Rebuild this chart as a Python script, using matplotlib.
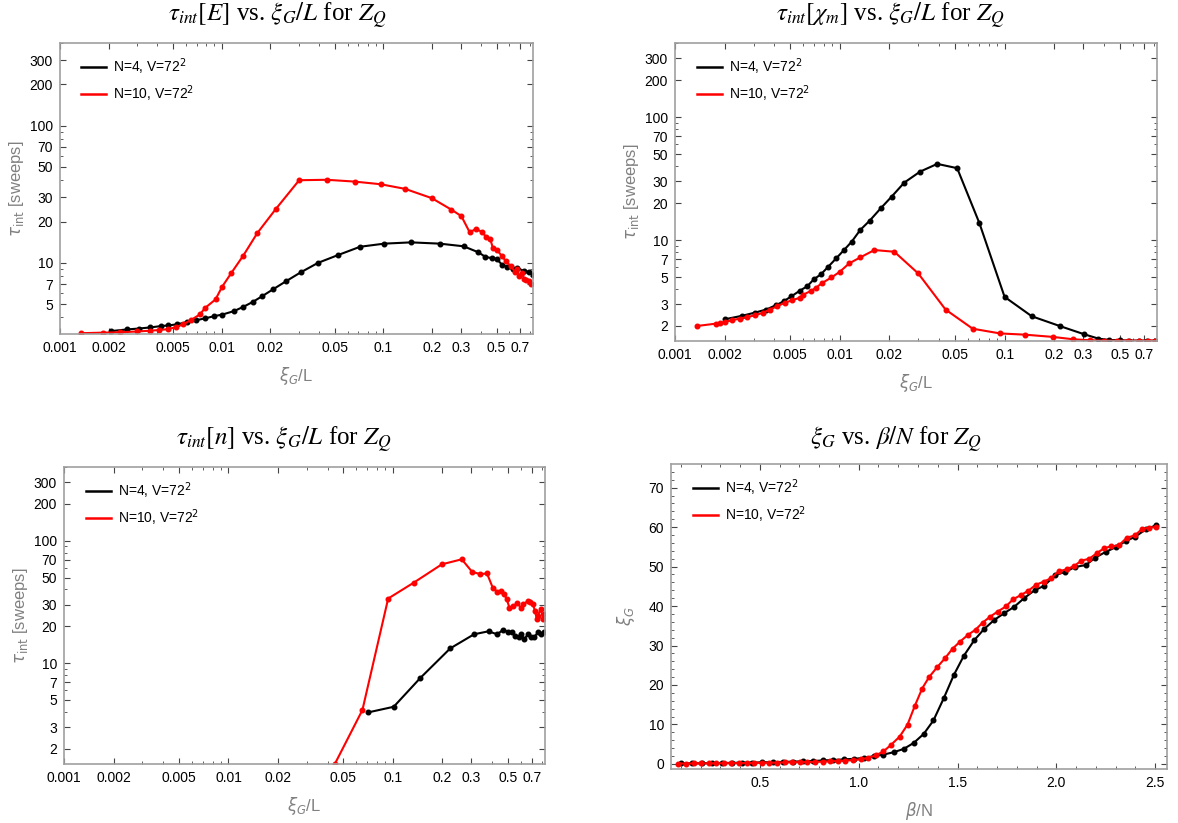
import matplotlib
matplotlib.use("Agg")
import matplotlib.pyplot as plt
from matplotlib.lines import Line2D
from matplotlib.ticker import FixedLocator, FixedFormatter, NullFormatter

plt.rcParams['font.family'] = ['Liberation Sans', 'DejaVu Sans']
plt.rcParams['mathtext.fontset'] = 'dejavusans'

# ---------------- data ----------------
legend_n4 = "N=4, V=72$^2$"
legend_n10 = "N=10, V=72$^2$"

# tau_int[E] vs xi_G/L
e_x_n4 = [0.00206, 0.00259, 0.00306, 0.00359, 0.00421, 0.00468, 0.00527, 0.00609, 0.00696, 0.0079,
          0.0090, 0.0101, 0.0119, 0.0136, 0.0156, 0.0178, 0.0207, 0.0250, 0.0309, 0.0394,
          0.0524, 0.0717, 0.101, 0.148, 0.223, 0.313, 0.385, 0.427, 0.47, 0.50,
          0.54, 0.58, 0.63, 0.67, 0.74, 0.79, 0.84]
e_y_n4 = [3.18, 3.27, 3.32, 3.38, 3.46, 3.50, 3.56, 3.70, 3.82, 3.94,
          4.09, 4.20, 4.45, 4.78, 5.20, 5.72, 6.4, 7.35, 8.55, 10.0,
          11.4, 13.1, 13.8, 14.1, 13.8, 13.2, 11.95, 11.05, 10.8, 10.7,
          9.7, 9.35, 8.95, 9.2, 8.7, 8.6, 8.2]
e_x_n10 = [0.00135, 0.00185, 0.00235, 0.00300, 0.00359, 0.00410, 0.00468, 0.00520, 0.00577, 0.00650,
           0.00733, 0.0079, 0.00915, 0.01005, 0.01147, 0.01359, 0.0166, 0.0216, 0.0301, 0.0446,
           0.0662, 0.096, 0.136, 0.199, 0.263, 0.303, 0.341, 0.374, 0.405, 0.433,
           0.457, 0.474, 0.50, 0.54, 0.57, 0.61, 0.65, 0.67, 0.69, 0.72,
           0.74, 0.76, 0.79, 0.82]
e_y_n10 = [3.07, 3.10, 3.12, 3.16, 3.20, 3.24, 3.29, 3.40, 3.56, 3.85,
           4.21, 4.7, 5.41, 6.69, 8.45, 11.3, 16.5, 24.7, 40.0, 40.3,
           39.1, 37.4, 34.6, 29.6, 24.4, 21.9, 16.7, 17.7, 16.8, 15.4,
           14.9, 12.9, 12.5, 11.2, 10.3, 9.5, 8.6, 9.0, 8.0, 8.4,
           7.6, 7.5, 7.35, 7.0]

# tau_int[chi_m] vs xi_G/L
c_x_n4 = [0.00201, 0.00255, 0.00306, 0.00357, 0.00412, 0.00457, 0.00509, 0.0057, 0.00636, 0.00694,
          0.0077, 0.0085, 0.0095, 0.0106, 0.0118, 0.0133, 0.0152, 0.0177, 0.0206, 0.0246,
          0.0307, 0.0390, 0.0515, 0.0703, 0.0999, 0.146, 0.218, 0.305, 0.37, 0.43,
          0.50, 0.57, 0.65, 0.73, 0.82]
c_y_n4 = [2.27, 2.42, 2.57, 2.72, 2.96, 3.18, 3.49, 3.86, 4.22, 4.78,
          5.28, 6.06, 7.09, 8.29, 9.69, 12.07, 14.4, 18.1, 22.5, 29.3,
          36.0, 41.6, 38.4, 13.7, 3.45, 2.40, 1.99, 1.71, 1.58, 1.54,
          1.53, 1.52, 1.52, 1.52, 1.52]
c_x_n10 = [0.00136, 0.00177, 0.00188, 0.00201, 0.00223, 0.00248, 0.00275, 0.00306, 0.0034, 0.00377,
           0.00418, 0.00464, 0.00514, 0.0057, 0.0060, 0.0067, 0.0072, 0.0078, 0.0089, 0.0100,
           0.0114, 0.0133, 0.0162, 0.0214, 0.0299, 0.0438, 0.064, 0.0937, 0.133, 0.196,
           0.26, 0.33, 0.40, 0.48, 0.56, 0.65, 0.74, 0.82]
c_y_n10 = [2.0, 2.09, 2.12, 2.16, 2.23, 2.30, 2.37, 2.44, 2.56, 2.72,
           2.90, 3.09, 3.24, 3.39, 3.6, 3.86, 4.11, 4.47, 4.96, 5.52,
           6.46, 7.22, 8.29, 8.03, 5.35, 2.72, 1.90, 1.74, 1.70, 1.63,
           1.56, 1.53, 1.52, 1.52, 1.52, 1.52, 1.52, 1.52]

# tau_int[n] vs xi_G/L
n_x_n4 = [0.0707, 0.101, 0.147, 0.223, 0.311, 0.381, 0.43, 0.464, 0.50, 0.53,
          0.55, 0.58, 0.60, 0.63, 0.66, 0.69, 0.72, 0.76, 0.79, 0.83]
n_y_n4 = [3.96, 4.40, 7.59, 13.2, 17.2, 18.2, 17.2, 18.6, 18.1, 17.8,
          16.7, 16.2, 17.2, 15.7, 17.2, 16.2, 16.2, 17.8, 17.2, 17.8]
n_x_n10 = [0.0443, 0.0652, 0.0935, 0.134, 0.198, 0.262, 0.302, 0.338, 0.373, 0.404,
           0.43, 0.456, 0.474, 0.492, 0.51, 0.54, 0.57, 0.60, 0.62, 0.66,
           0.68, 0.71, 0.73, 0.75, 0.76, 0.79, 0.82, 0.83]
n_y_n10 = [1.5, 4.14, 33.7, 45.5, 64.1, 70.5, 55.9, 53.3, 54.0, 41.4,
           38.3, 39.0, 36.6, 33.3, 28.4, 29.3, 30.8, 28.4, 30.2, 32.2,
           31.6, 30.2, 26.7, 22.8, 24.4, 27.6, 22.8, 25.0]

# xi_G vs beta/N
b_x_n4 = [0.103, 0.154, 0.205, 0.257, 0.308, 0.359, 0.41, 0.462, 0.513, 0.564,
          0.615, 0.667, 0.718, 0.769, 0.82, 0.871, 0.923, 0.974, 1.025, 1.076,
          1.125, 1.177, 1.228, 1.278, 1.329, 1.378, 1.43, 1.481, 1.532, 1.584,
          1.633, 1.684, 1.736, 1.787, 1.837, 1.89, 1.937, 1.994, 2.046, 2.095,
          2.15, 2.198, 2.249, 2.30, 2.35, 2.40, 2.452, 2.506]
b_y_n4 = [0.10, 0.12, 0.148, 0.186, 0.22, 0.26, 0.30, 0.34, 0.38, 0.44,
          0.50, 0.57, 0.65, 0.73, 0.86, 0.98, 1.12, 1.28, 1.5, 1.94,
          2.36, 2.95, 3.8, 5.3, 7.6, 11.0, 16.6, 22.5, 27.4, 31.3,
          34.1, 36.4, 38.2, 39.8, 42.0, 44.0, 45.1, 47.8, 48.7, 49.9,
          50.4, 52.3, 53.7, 54.9, 56.4, 57.6, 59.4, 60.5]
b_x_n10 = [0.087, 0.125, 0.164, 0.202, 0.241, 0.279, 0.318, 0.356, 0.394, 0.433,
           0.471, 0.51, 0.548, 0.587, 0.625, 0.664, 0.702, 0.74, 0.779, 0.817,
           0.856, 0.894, 0.933, 0.971, 1.01, 1.048, 1.086, 1.125, 1.163, 1.207,
           1.247, 1.283, 1.321, 1.356, 1.397, 1.437, 1.475, 1.513, 1.553, 1.591,
           1.627, 1.665, 1.703, 1.745, 1.781, 1.821, 1.859, 1.897, 1.937, 1.975,
           2.011, 2.053, 2.091, 2.127, 2.167, 2.205, 2.243, 2.278, 2.317, 2.356,
           2.397, 2.433, 2.471, 2.506]
b_y_n10 = [0.08, 0.09, 0.098, 0.127, 0.135, 0.145, 0.161, 0.179, 0.198, 0.22,
           0.245, 0.271, 0.301, 0.334, 0.37, 0.41, 0.432, 0.482, 0.518, 0.56,
           0.64, 0.72, 0.82, 0.96, 1.17, 1.54, 2.15, 3.15, 4.8, 6.9,
           9.95, 14.6, 19.1, 22.0, 24.5, 26.8, 29.2, 31.0, 32.7, 34.0,
           35.8, 37.3, 38.6, 39.9, 41.7, 42.8, 43.9, 45.4, 46.2, 47.1,
           48.8, 49.3, 50.2, 51.5, 52.0, 53.4, 54.7, 55.1, 55.4, 57.3,
           57.9, 59.5, 59.9, 60.0]

xmaj = [0.001, 0.002, 0.005, 0.01, 0.02, 0.05, 0.1, 0.2, 0.3, 0.5, 0.7]
xmaj_lbl = ["0.001", "0.002", "0.005", "0.01", "0.02", "0.05", "0.1", "0.2", "0.3", "0.5", "0.7"]
xmin = [0.003, 0.004, 0.006, 0.007, 0.008, 0.009, 0.03, 0.04, 0.06, 0.07, 0.08, 0.09, 0.4, 0.6, 0.8]
ymaj = [2, 3, 5, 7, 10, 20, 30, 50, 70, 100, 200, 300]
ymin = [4, 6, 8, 9, 40, 60, 80, 90, 400]

titles = [r"$\tau_{int}[E]$ vs. $\xi_G/L$ for $Z_Q$",
          r"$\tau_{int}[\chi_m]$ vs. $\xi_G/L$ for $Z_Q$",
          r"$\tau_{int}[n]$ vs. $\xi_G/L$ for $Z_Q$",
          r"$\xi_G$ vs. $\beta/N$ for $Z_Q$"]

# ---------------- figure ----------------
W, H = 1178, 823
fig = plt.figure(figsize=(W / 100, H / 100), dpi=100)

def make_ax(l, t, r, b):
    return fig.add_axes([l / W, 1 - b / H, (r - l) / W, (b - t) / H])

SPINE = '#a0a0a0'
LABC = '#808080'

def style(ax):
    for s in ax.spines.values():
        s.set_color(SPINE)
        s.set_linewidth(1.2)
    ax.tick_params(which='both', direction='in', top=True, right=True, color='#444444',
                   labelsize=10, pad=5)
    ax.tick_params(which='major', length=4.5, width=0.8)
    ax.tick_params(which='minor', length=2.5, width=0.6)

def log_axes(ax, ylo):
    ax.set_xscale('log')
    ax.set_yscale('log')
    ax.set_xlim(0.001, 0.84)
    ax.set_ylim(ylo, 400)
    ax.xaxis.set_major_locator(FixedLocator(xmaj))
    ax.xaxis.set_major_formatter(FixedFormatter(xmaj_lbl))
    ax.xaxis.set_minor_locator(FixedLocator(xmin))
    ax.xaxis.set_minor_formatter(NullFormatter())
    yt = [v for v in ymaj if v > ylo]
    ax.yaxis.set_major_locator(FixedLocator(yt))
    ax.yaxis.set_major_formatter(FixedFormatter([str(v) for v in yt]))
    ax.yaxis.set_minor_locator(FixedLocator(ymin))
    ax.yaxis.set_minor_formatter(NullFormatter())
    ax.set_xlabel(r"$\xi_G$/L", color=LABC, fontsize=12, labelpad=7)
    ax.set_ylabel(r"$\tau_{\rm int}$ [sweeps]", color=LABC, fontsize=12, labelpad=3)

def draw(ax, x4, y4, x10, y10):
    ax.plot(x4, y4, color='black', lw=1.5, marker='o', ms=3.3, clip_on=True)
    ax.plot(x10, y10, color='red', lw=1.5, marker='o', ms=3.3, clip_on=True)
    handles = [Line2D([], [], color='black', lw=1.8), Line2D([], [], color='red', lw=1.8)]
    ax.legend(handles, [legend_n4, legend_n10], loc='upper left', frameon=False, fontsize=10,
              handlelength=1.8, handletextpad=0.5, labelspacing=0.45, borderpad=0,
              borderaxespad=0, bbox_to_anchor=(0.045, 0.955))

ax1 = make_ax(60, 43, 533, 334)
ax2 = make_ax(675, 43, 1157, 341)
ax3 = make_ax(64, 467, 545, 764)
ax4 = make_ax(671, 464, 1167, 769)

for ax in (ax1, ax2, ax3, ax4):
    style(ax)

log_axes(ax1, 3.03)
draw(ax1, e_x_n4, e_y_n4, e_x_n10, e_y_n10)
log_axes(ax2, 1.51)
draw(ax2, c_x_n4, c_y_n4, c_x_n10, c_y_n10)
log_axes(ax3, 1.5)
draw(ax3, n_x_n4, n_y_n4, n_x_n10, n_y_n10)

ax4.set_xlim(0.05, 2.56)
ax4.set_ylim(-1.3, 76)
ax4.xaxis.set_major_locator(FixedLocator([0.5, 1.0, 1.5, 2.0, 2.5]))
ax4.xaxis.set_major_formatter(FixedFormatter(["0.5", "1.0", "1.5", "2.0", "2.5"]))
ax4.xaxis.set_minor_locator(FixedLocator([0.1 * i for i in range(1, 26) if i % 5 != 0]))
ax4.yaxis.set_major_locator(FixedLocator([0, 10, 20, 30, 40, 50, 60, 70]))
ax4.yaxis.set_minor_locator(FixedLocator([2 * i for i in range(0, 38) if i % 5 != 0]))
ax4.set_xlabel(r"$\beta$/N", color=LABC, fontsize=12, labelpad=7)
ax4.set_ylabel(r"$\xi_G$", color=LABC, fontsize=12, labelpad=8)
draw(ax4, b_x_n4, b_y_n4, b_x_n10, b_y_n10)

title_pos = [(277, 16), (890, 16), (284, 440), (896, 440)]
for (tx, ty), t in zip(title_pos, titles):
    fig.text(tx / W, 1 - ty / H, t, ha='center', va='center', fontsize=18,
             family='Liberation Serif', math_fontfamily='stix')

fig.savefig("out.png", dpi=100)
